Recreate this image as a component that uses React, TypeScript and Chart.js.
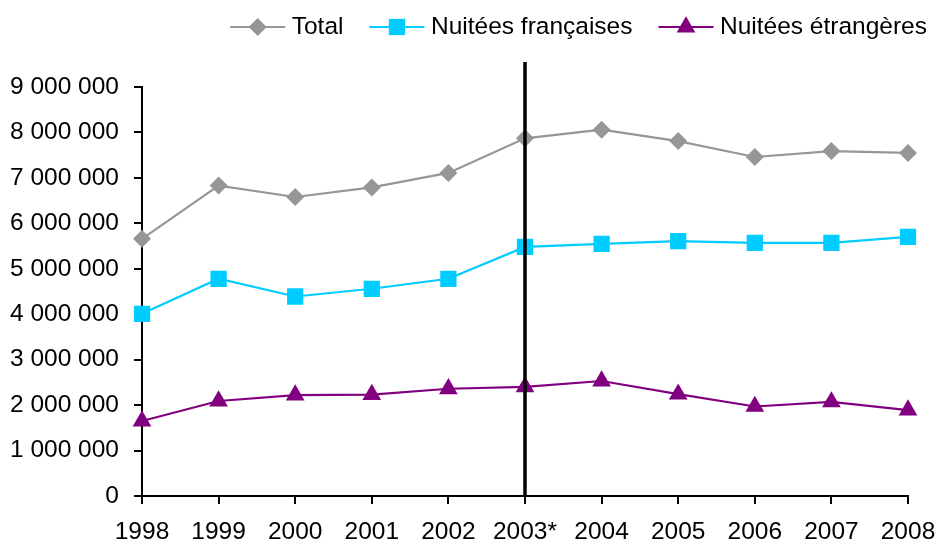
import React, { useEffect, useRef } from "react";
import { Chart, registerables } from "chart.js";

Chart.register(...registerables);

const years = ["1998", "1999", "2000", "2001", "2002", "2003*", "2004", "2005", "2006", "2007", "2008"];
const totalValues = [5660000, 6830000, 6580000, 6790000, 7110000, 7870000, 8060000, 7810000, 7460000, 7590000, 7550000];
const frenchValues = [4010000, 4780000, 4390000, 4560000, 4780000, 5480000, 5550000, 5610000, 5570000, 5570000, 5700000];
const foreignValues = [1650000, 2090000, 2220000, 2230000, 2360000, 2400000, 2530000, 2240000, 1970000, 2070000, 1890000];
const seriesNames = ["Total", "Nuitées françaises", "Nuitées étrangères"];
const yMin = 0;
const yMax = 9000000;
const yStep = 1000000;
const markerYear = "2003*";

const FONT = '"Liberation Sans", Arial, sans-serif';
const FONT_SIZE = 24.5;

function fmt(v: number): string {
  return String(Math.round(v)).replace(/\B(?=(\d{3})+(?!\d))/g, " ");
}

function drawMarker(ctx: CanvasRenderingContext2D, style: string, x: number, y: number, r: number, color: string) {
  ctx.save();
  ctx.fillStyle = color;
  ctx.beginPath();
  if (style === "rectRot") {
    ctx.moveTo(x - r, y);
    ctx.lineTo(x, y - r);
    ctx.lineTo(x + r, y);
    ctx.lineTo(x, y + r);
  } else if (style === "rect") {
    const s = r * Math.SQRT1_2;
    ctx.rect(x - s, y - s, 2 * s, 2 * s);
  } else {
    const w = r * Math.sin(Math.PI / 3);
    ctx.moveTo(x, y - r);
    ctx.lineTo(x + w, y + r / 2);
    ctx.lineTo(x - w, y + r / 2);
  }
  ctx.closePath();
  ctx.fill();
  ctx.restore();
}

const extrasPlugin = {
  id: "extras",
  afterDatasetsDraw(chart: any) {
    const ctx: CanvasRenderingContext2D = chart.ctx;
    const xs = chart.scales.x;
    const area = chart.chartArea;
    const idx = years.indexOf(markerYear);
    const px = xs.getPixelForValue(idx);
    ctx.save();
    ctx.strokeStyle = "#000";
    ctx.lineWidth = 3.5;
    ctx.beginPath();
    ctx.moveTo(px, area.top - 25);
    ctx.lineTo(px, area.bottom);
    ctx.stroke();
    ctx.restore();
  },
  afterDraw(chart: any) {
    const ctx: CanvasRenderingContext2D = chart.ctx;
    const ds = chart.data.datasets;
    ctx.save();
    ctx.font = `${FONT_SIZE}px ${FONT}`;
    ctx.textBaseline = "middle";
    ctx.fillStyle = "#000";
    let right = 927;
    const y = 27;
    for (let i = ds.length - 1; i >= 0; i--) {
      const d = ds[i];
      const tw = ctx.measureText(d.label).width;
      const textX = right - tw;
      ctx.fillText(d.label, textX, y);
      const cx = textX - 34;
      ctx.strokeStyle = d.borderColor;
      ctx.lineWidth = 2;
      ctx.beginPath();
      ctx.moveTo(cx - 27.5, y);
      ctx.lineTo(cx + 27.5, y);
      ctx.stroke();
      drawMarker(ctx, d.pointStyle, cx, y, d.pointRadius, d.pointBackgroundColor);
      right = cx - 27.5 - 26;
    }
    ctx.restore();
  },
};

export default function App() {
  const ref = useRef<HTMLCanvasElement | null>(null);
  useEffect(() => {
    if (!ref.current) return;
    const chart = new Chart(ref.current, {
      type: "line",
      data: {
        labels: years,
        datasets: [
          {
            label: seriesNames[0],
            data: totalValues,
            borderColor: "#969696",
            backgroundColor: "#969696",
            pointBackgroundColor: "#969696",
            pointBorderColor: "#969696",
            pointStyle: "rectRot",
            pointRadius: 9,
            pointBorderWidth: 0,
            borderWidth: 2.2,
            tension: 0,
          },
          {
            label: seriesNames[1],
            data: frenchValues,
            borderColor: "#00CCFF",
            backgroundColor: "#00CCFF",
            pointBackgroundColor: "#00CCFF",
            pointBorderColor: "#00CCFF",
            pointStyle: "rect",
            pointRadius: 11.5,
            pointBorderWidth: 0,
            borderWidth: 2.2,
            tension: 0,
          },
          {
            label: seriesNames[2],
            data: foreignValues,
            borderColor: "#800080",
            backgroundColor: "#800080",
            pointBackgroundColor: "#800080",
            pointBorderColor: "#800080",
            pointStyle: "triangle",
            pointRadius: 10.8,
            pointBorderWidth: 0,
            borderWidth: 2.2,
            tension: 0,
          },
        ],
      },
      options: {
        responsive: false,
        animation: false,
        layout: { padding: { top: 87, right: 28, left: 0, bottom: 0 } },
        plugins: {
          legend: { display: false },
          tooltip: { enabled: false },
        },
        scales: {
          x: {
            type: "category",
            offset: false,
            grid: {
              display: true,
              drawOnChartArea: false,
              drawTicks: true,
              tickLength: 8,
              color: "#000",
              lineWidth: 2,
            },
            border: { display: true, color: "#000", width: 2 },
            ticks: {
              color: "#000",
              font: { family: FONT, size: FONT_SIZE },
              padding: 14,
              maxRotation: 0,
              autoSkip: false,
            },
            afterFit: (scale: any) => {
              scale.height = 47;
              scale.paddingRight = 28;
              scale.paddingLeft = 0;
            },
          },
          y: {
            min: yMin,
            max: yMax,
            grid: {
              display: true,
              drawOnChartArea: false,
              drawTicks: true,
              tickLength: 8,
              color: "#000",
              lineWidth: 2,
            },
            border: { display: true, color: "#000", width: 2 },
            ticks: {
              stepSize: yStep,
              color: "#000",
              font: { family: FONT, size: FONT_SIZE },
              padding: 15,
              callback: (v: any) => fmt(Number(v)),
            },
            afterFit: (scale: any) => {
              scale.width = 142;
            },
          },
        },
      },
      plugins: [extrasPlugin],
    });
    return () => chart.destroy();
  }, []);
  return (
    <canvas
      ref={ref}
      width={936}
      height={543}
      style={{ position: "fixed", left: 0, top: 0, width: 936, height: 543, display: "block" }}
    />
  );
}
